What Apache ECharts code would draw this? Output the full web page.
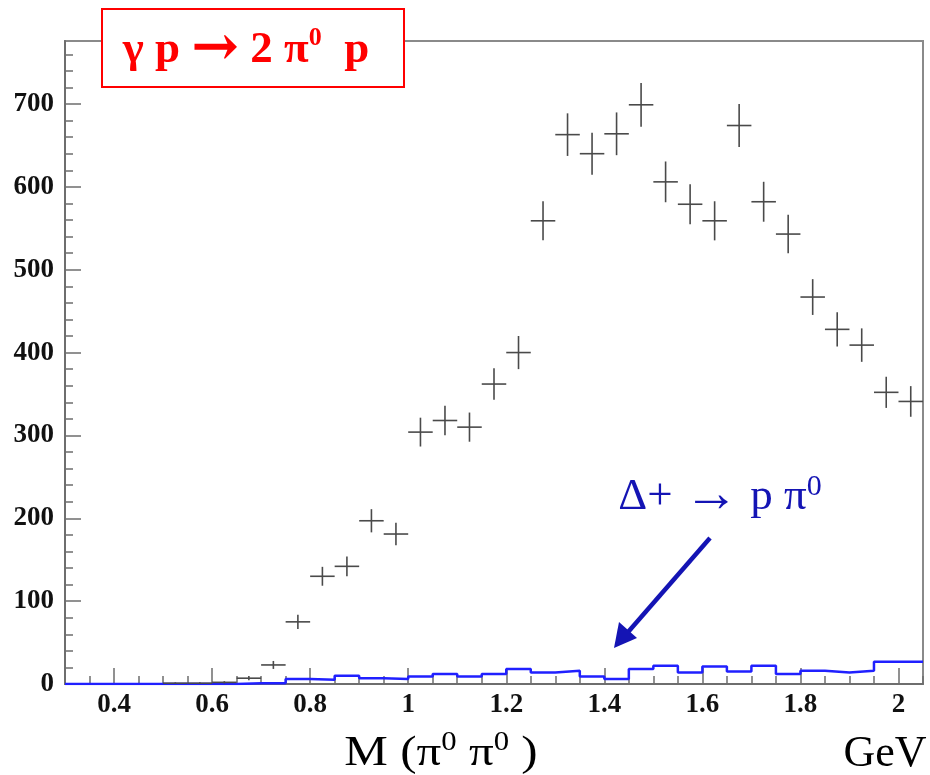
<!DOCTYPE html>
<html>
<head>
<meta charset="utf-8">
<script src="https://cdn.jsdelivr.net/npm/echarts@6/dist/echarts.min.js"></script>
<style>
  html, body { margin: 0; padding: 0; background: #fff; }
  #chart { width: 930px; height: 775px; }
</style>
</head>
<body>
<div id="chart"></div>
<script>
// M(pi0 pi0) bin centres, GeV
const massCentres = [0.525, 0.575, 0.625, 0.675, 0.725, 0.775, 0.825, 0.875, 0.925, 0.975,
  1.025, 1.075, 1.125, 1.175, 1.225, 1.275, 1.325, 1.375, 1.425, 1.475,
  1.525, 1.575, 1.625, 1.675, 1.725, 1.775, 1.825, 1.875, 1.925, 1.975, 2.025]
// events per bin (black crosses)
const counts = [1, 1, 2, 7, 23, 75, 130, 142, 197, 181,
  304, 318, 310, 362, 400, 559, 663, 640, 664, 699,
  606, 579, 559, 674, 582, 543, 467, 428, 409, 352, 341]
// vertical error bars
const errors = [1, 1, 1.4, 2.6, 4.8, 8.7, 11.4, 11.9, 14, 13.5,
  17.4, 17.8, 17.6, 19, 20, 23.6, 25.7, 25.3, 25.8, 26.4,
  24.6, 24.1, 23.6, 26, 24.1, 23.3, 21.6, 20.7, 20.2, 18.8, 18.5]
// Delta+ -> p pi0 histogram (blue): bin edges and counts
const deltaEdges = [0.30, 0.35, 0.40, 0.45, 0.50, 0.55, 0.60, 0.65, 0.70, 0.75,
  0.80, 0.85, 0.90, 0.95, 1.00, 1.05, 1.10, 1.15, 1.20, 1.25,
  1.30, 1.35, 1.40, 1.45, 1.50, 1.55, 1.60, 1.65, 1.70, 1.75,
  1.80, 1.85, 1.90, 1.95, 2.00, 2.05]
const deltaCounts = [0, 0, 0, 0, 0, 0, 0, 1, 1, 6,
  5, 10, 7, 6, 9, 12, 9, 12, 18, 14,
  16, 9, 6, 18, 22, 14, 21, 15, 22, 12,
  16, 14, 16, 27, 27]
// axis ticks
const xLabels = [0.4, 0.6, 0.8, 1.0, 1.2, 1.4, 1.6, 1.8, 2.0]
const xMinor = [0.35, 0.45, 0.5, 0.55, 0.65, 0.7, 0.75, 0.85, 0.9, 0.95, 1.05, 1.1, 1.15,
  1.25, 1.3, 1.35, 1.45, 1.5, 1.55, 1.65, 1.7, 1.75, 1.85, 1.9, 1.95, 2.05]
const yLabels = [0, 100, 200, 300, 400, 500, 600, 700]
const yMinor = [20, 40, 60, 80, 120, 140, 160, 180, 220, 240, 260, 280, 320, 340, 360, 380,
  420, 440, 460, 480, 520, 540, 560, 580, 620, 640, 660, 680, 720, 740, 760]

const X_MIN = 0.3, X_MAX = 2.05, Y_MAX = 776
const HALF_BIN = 0.025
const serif = 'Liberation Serif'
const axisGrey = '#6e6e6e'
const red = '#ff0000'
const navy = '#1414b4'

const chart = echarts.init(document.getElementById('chart'))

// outline of the histogram: flat top over each bin
const deltaData = []
deltaCounts.forEach((c, i) => {
  deltaData.push([deltaEdges[i], c], [deltaEdges[i + 1], c])
})
const crossData = massCentres.map((m, i) => [m, counts[i], errors[i]])

const tickFont = { fontFamily: serif, fontWeight: 'bold', fontSize: 27, color: '#111' }

// rich text styles: base, arrow, superscript
function richSet(color, size, weight, supSize, arrowFont, arrowSize) {
  return {
    a: { fontFamily: serif, fontWeight: weight, fontSize: size, lineHeight: 50, fill: color, color: color },
    r: { fontFamily: arrowFont, fontWeight: weight, fontSize: arrowSize, lineHeight: 50, fill: color, color: color },
    s: { fontFamily: serif, fontWeight: weight, fontSize: supSize, lineHeight: supSize, fill: color, color: color, verticalAlign: 'top' }
  }
}

const option = {
  animation: false,
  backgroundColor: '#fff',
  grid: {
    left: 65, right: 7, top: 41, bottom: 91,
    show: true, borderColor: '#8a8a8a', borderWidth: 2
  },
  xAxis: [{
    type: 'value', min: X_MIN, max: X_MAX,
    axisLine: { lineStyle: { color: axisGrey, width: 2 } },
    axisTick: { inside: true, length: 16, customValues: xLabels, lineStyle: { color: axisGrey, width: 1.5 } },
    axisLabel: {
      customValues: xLabels, margin: 8, ...tickFont,
      formatter: v => String(Math.round(v * 10) / 10)
    },
    splitLine: { show: false }
  }, {
    type: 'value', min: X_MIN, max: X_MAX, position: 'bottom',
    axisLine: { show: false },
    axisTick: { inside: true, length: 8, customValues: xMinor, lineStyle: { color: axisGrey, width: 1.5 } },
    axisLabel: { show: false },
    splitLine: { show: false }
  }],
  yAxis: [{
    type: 'value', min: 0, max: Y_MAX,
    axisLine: { show: true, lineStyle: { color: axisGrey, width: 2 } },
    axisTick: { show: true, inside: true, length: 16, customValues: yLabels, lineStyle: { color: axisGrey, width: 1.5 } },
    axisLabel: { customValues: yLabels, margin: 11, ...tickFont },
    splitLine: { show: false }
  }, {
    type: 'value', min: 0, max: Y_MAX, position: 'left',
    axisLine: { show: false },
    axisTick: { show: true, inside: true, length: 8, customValues: yMinor, lineStyle: { color: axisGrey, width: 1.5 } },
    axisLabel: { show: false },
    splitLine: { show: false }
  }],
  series: [{
    name: 'delta',
    type: 'line',
    data: deltaData,
    symbol: 'none',
    lineStyle: { color: '#2020ff', width: 2.5 },
    z: 2
  }, {
    name: 'data',
    type: 'custom',
    data: crossData,
    renderItem: function (params, api) {
      const x = api.value(0), y = api.value(1), e = api.value(2)
      const l = api.coord([x - HALF_BIN, y])
      const r = api.coord([x + HALF_BIN, y])
      const t = api.coord([x, y + e])
      const b = api.coord([x, Math.max(0, y - e)])
      const st = { stroke: '#4a4a4a', lineWidth: 1.6 }
      return {
        type: 'group',
        children: [
          { type: 'line', shape: { x1: l[0], y1: l[1], x2: r[0], y2: r[1] }, style: st },
          { type: 'line', shape: { x1: t[0], y1: t[1], x2: b[0], y2: b[1] }, style: st }
        ]
      }
    },
    z: 3
  }],
  graphic: [
    // reaction box
    {
      type: 'rect', left: 101, top: 8, z: 10,
      shape: { width: 302, height: 78 },
      style: { fill: '#fff', stroke: red, lineWidth: 2 }
    },
    {
      type: 'text', x: 246, y: 50, z: 11,
      style: {
        text: '{a|γ p }{r|→}{a| 2 π}{s|0}{a|  p}',
        textAlign: 'center', textVerticalAlign: 'middle',
        rich: richSet(red, 45, 'bold', 26, 'DejaVu Serif', 57)
      }
    },
    // Delta annotation
    {
      type: 'text', x: 720, y: 497, z: 11,
      style: {
        text: '{a|Δ+ }{r|→}{a| p π}{s|0}',
        textAlign: 'center', textVerticalAlign: 'middle',
        rich: richSet(navy, 45, 'normal', 30, serif, 55)
      }
    },
    {
      type: 'line', z: 11,
      shape: { x1: 710, y1: 538, x2: 622, y2: 639 },
      style: { stroke: navy, lineWidth: 4.5 }
    },
    {
      type: 'polygon', z: 11,
      shape: { points: [[614, 648], [619, 622], [637, 638]] },
      style: { fill: navy }
    },
    // x axis title
    {
      type: 'text', x: 441, y: 754, z: 11, scaleX: 1.14,
      style: {
        text: '{a|M (π}{s|0}{a| π}{s|0}{a| )}',
        textAlign: 'center', textVerticalAlign: 'middle',
        rich: richSet('#000', 43, 'normal', 27, serif, 43)
      }
    },
    {
      type: 'text', x: 885, y: 754, z: 11,
      style: {
        text: 'GeV', fontFamily: serif, fontSize: 44, fill: '#000',
        textAlign: 'center', textVerticalAlign: 'middle'
      }
    }
  ]
}

chart.setOption(option)
</script>
</body>
</html>
